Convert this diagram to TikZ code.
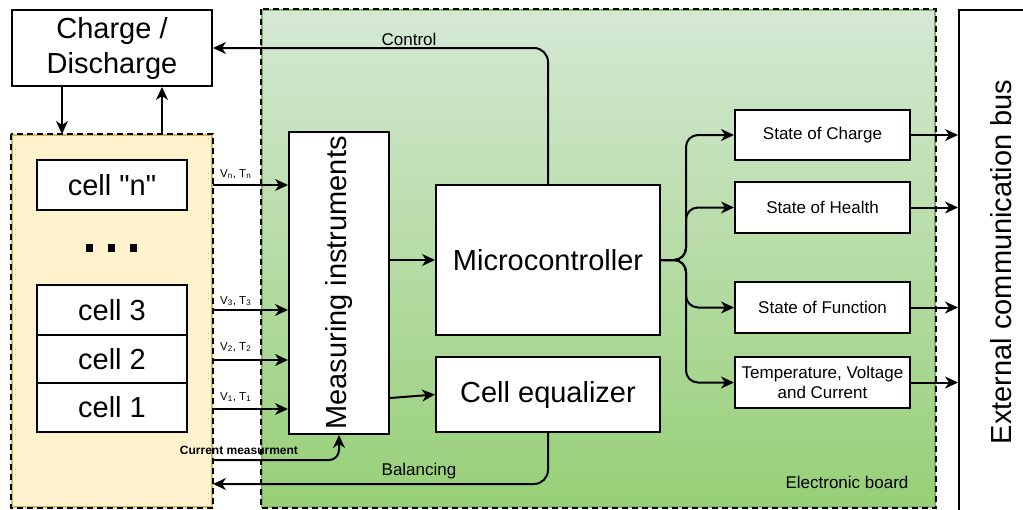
\documentclass[tikz,border=0pt]{standalone}
\usepackage{fontspec}
\setmainfont{Liberation Sans}
\usetikzlibrary{arrows.meta}
\definecolor{ylwfill}{HTML}{FFF2CC}
\definecolor{ylwstroke}{HTML}{D6B656}
\definecolor{grntop}{HTML}{D5E8D4}
\definecolor{grnbot}{HTML}{97D077}
\definecolor{grnstroke}{HTML}{82B366}
\begin{document}
\begin{tikzpicture}[x=1pt,y=-1pt,
  box/.style={draw=black, line width=2pt, fill=white, inner sep=0pt, align=center},
  big/.style={font=\fontsize{29}{35}\selectfont},
  mid/.style={font=\fontsize{17}{20}\selectfont},
  small/.style={font=\fontsize{11.5}{13}\selectfont, inner sep=0pt, anchor=west},
  conn/.style={line width=2pt, -{Stealth[length=13pt,width=12pt,inset=4pt]}},
  dashpat/.style={draw=black, line width=2pt, dash pattern=on 6pt off 4pt},
]
\useasboundingbox (0,0) rectangle (1023,509);
\fill[white] (0,0) rectangle (1023,509);

% containers
\node[draw=grnstroke, line width=2pt, top color=grntop, bottom color=grnbot,
      minimum width=673pt, minimum height=497pt, inner sep=0pt] (board) at (598.5,258.5) {};
\draw[dashpat] (board.north west) rectangle (board.south east);
\node[draw=ylwstroke, line width=2pt, fill=ylwfill,
      minimum width=200pt, minimum height=372pt, inner sep=0pt] (batt) at (112,321) {};
\draw[dashpat] (batt.north west) rectangle (batt.south east);

% boxes
\node[box,big,minimum width=200pt,minimum height=76pt] (cd) at (112,48) {Charge /\\Discharge};
\node[box,big,minimum width=150pt,minimum height=50pt] (celln) at (112,185) {cell \textquotedbl n\textquotedbl};
\node[box,big,minimum width=150pt,minimum height=50pt] (cell3) at (112,310) {cell 3};
\node[box,big,minimum width=150pt,minimum height=48pt] (cell2) at (112,359) {cell 2};
\node[box,big,minimum width=150pt,minimum height=49pt] (cell1) at (112,407.5) {cell 1};
\fill (86,244) rectangle (93,252);
\fill (108,244) rectangle (115,252);
\fill (130,244) rectangle (137,252);

\node[box,minimum width=100pt,minimum height=302pt] (meas) at (339,283) {};
\node[big,rotate=90,inner sep=0pt] (meastext) at (meas.center) {Measuring instruments};

\node[box,big,minimum width=224pt,minimum height=150pt] (mc) at (548,260) {Microcontroller};
\node[box,big,minimum width=224pt,minimum height=75pt] (ce) at (548,394.5) {Cell equalizer};

\node[box,mid,minimum width=175pt,minimum height=50pt] (soc) at (822.5,135) {State of Charge};
\node[box,mid,minimum width=175pt,minimum height=51pt] (soh) at (822.5,207.5) {State of Health};
\node[box,mid,minimum width=175pt,minimum height=51pt] (sof) at (822.5,307.5) {State of Function};
\node[box,mid,minimum width=175pt,minimum height=51pt] (tvc) at (822.5,382.5) {Temperature, Voltage\\and Current};

\node[box,minimum width=90pt,minimum height=504pt] (bus) at (1004,262) {};
\node[big,rotate=90,inner sep=0pt] (bustext) at (1001,262) {External communication bus};

% connectors
\draw[conn] (cd.south -| 62,0) -- (batt.north -| 62,0);
\draw[conn] (batt.north -| 162,0) -- (cd.south -| 162,0);

\draw[conn] (batt.east |- 0,185) -- (meas.west |- 0,185);
\draw[conn] (batt.east |- 0,310) -- (meas.west |- 0,310);
\draw[conn] (batt.east |- 0,360) -- (meas.west |- 0,360);
\draw[conn] (batt.east |- 0,409) -- (meas.west |- 0,409);
\draw[conn, rounded corners=10pt] (batt.east |- 0,460) -| (meas.south);

\draw[conn] (meas.east |- mc.west) -- (mc.west);
\draw[conn] (meas.east |- 0,398) -- (ce.west);

\draw[conn, rounded corners=14pt] (mc.north) |- (cd.east);
\draw[conn, rounded corners=14pt] (ce.south) |- (batt.east |- 0,484);

\draw[conn, rounded corners=12pt] (mc.east) -- ++(25,0) |- (soc.west);
\draw[conn, rounded corners=12pt] (mc.east) -- ++(25,0) |- (soh.west);
\draw[conn, rounded corners=12pt] (mc.east) -- ++(25,0) |- (sof.west);
\draw[conn, rounded corners=12pt] (mc.east) -- ++(25,0) |- (tvc.west);

\draw[conn] (soc.east) -- (bus.west |- soc.east);
\draw[conn] (soh.east) -- (bus.west |- soh.east);
\draw[conn] (sof.east) -- (bus.west |- sof.east);
\draw[conn] (tvc.east) -- (bus.west |- tvc.east);

% labels
\node[mid] (lcontrol) at (409,39) {Control};
\node[mid] (lbal) at (419,471) {Balancing};
\node[mid] (lboard) at (847,482) {Electronic board};
\node[font=\fontsize{12}{14}\selectfont\bfseries, inner sep=0pt] (lcur) at (239,450) {Current measurment};
\node[small] (lvn) at (220,174) {V\textsubscript{n}, T\textsubscript{n}};
\node[small] (lv3) at (220,301) {V\textsubscript{3}, T\textsubscript{3}};
\node[small] (lv2) at (220,347) {V\textsubscript{2}, T\textsubscript{2}};
\node[small] (lv1) at (220,397) {V\textsubscript{1}, T\textsubscript{1}};
\end{tikzpicture}
\end{document}
